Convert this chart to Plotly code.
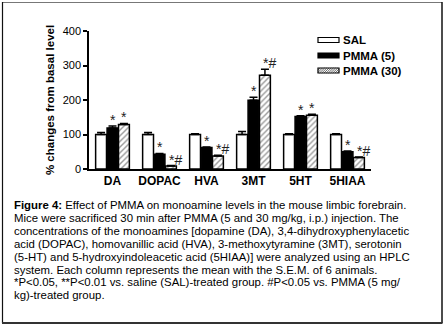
import plotly.graph_objects as go

categories = ["DA", "DOPAC", "HVA", "3MT", "5HT", "5HIAA"]
series_names = ["SAL", "PMMA (5)", "PMMA (30)"]
sal_vals = [100, 100, 100, 100, 100, 100]
sal_err = [6, 6, 2, 9, 2, 2]
pmma5_vals = [119, 43, 62, 199, 152, 50]
pmma5_err = [6, 2, 2, 9, 2, 2]
pmma30_vals = [129, 9, 38, 272, 156, 33]
pmma30_err = [3, 1, 2, 17, 3, 2]
sig_pmma5 = ["*", "*", "*", "*", "*", "*"]
sig_pmma30 = ["*", "*#", "*#", "*#", "*", "*#"]
y_ticks = [0, 100, 200, 300, 400]
y_title = "% changes from basal level"
caption_lines = [
    "<b>Figure 4:</b> Effect of PMMA on monoamine levels in the mouse limbic forebrain.",
    "Mice were sacrificed 30 min after PMMA (5 and 30 mg/kg, i.p.) injection. The",
    "concentrations of the monoamines [dopamine (DA), 3,4-dihydroxyphenylacetic",
    "acid (DOPAC), homovanillic acid (HVA), 3-methoxytyramine (3MT), serotonin",
    "(5-HT) and 5-hydroxyindoleacetic acid (5HIAA)] were analyzed using an HPLC",
    "system. Each column represents the mean with the S.E.M. of 6 animals.",
    "*P<0.05, **P<0.01 vs. saline (SAL)-treated group. #P<0.05 vs. PMMA (5 mg/",
    "kg)-treated group.",
]

W, H = 448, 330
L, R, T, B = 89, 77, 31, 161
PW = W - L - R
PH = H - T - B
FONT = "Liberation Sans, Arial, sans-serif"


def px(xp):
    return (xp - L) / PW


def py(yp):
    return (H - B - yp) / PH


fig = go.Figure()
fig.add_trace(go.Bar(
    x=categories, y=sal_vals, name=series_names[0],
    marker=dict(color="white", line=dict(color="black", width=1.5)),
    error_y=dict(type="data", array=sal_err, arrayminus=[0] * 6,
                 color="black", thickness=1.5, width=4),
))
fig.add_trace(go.Bar(
    x=categories, y=pmma5_vals, name=series_names[1],
    marker=dict(color="black", line=dict(color="black", width=1.5)),
    error_y=dict(type="data", array=pmma5_err, arrayminus=[0] * 6,
                 color="black", thickness=1.5, width=4),
))
fig.add_trace(go.Bar(
    x=categories, y=pmma30_vals, name=series_names[2],
    marker=dict(color="white", line=dict(color="black", width=1.5),
                pattern=dict(shape="/", fgcolor="#333333", bgcolor="white",
                             size=4, solidity=0.35, fillmode="overlay")),
    error_y=dict(type="data", array=pmma30_err, arrayminus=[0] * 6,
                 color="black", thickness=1.5, width=4),
))

bar_px = 11.6
annotations = []
for i, c in enumerate(categories):
    for k, (vals, errs, sigs) in enumerate([(pmma5_vals, pmma5_err, sig_pmma5),
                                            (pmma30_vals, pmma30_err, sig_pmma30)]):
        off = (k) * bar_px
        s = sigs[i]
        annotations.append(dict(
            x=c, y=vals[i] + errs[i], xref="x", yref="y",
            text=s, showarrow=False, yanchor="bottom",
            xanchor="left" if len(s) > 1 else "center",
            xshift=off - 4 if len(s) > 1 else off, yshift=-4,
            font=dict(family=FONT, size=14, color="#222222"),
        ))

# caption
for j, line in enumerate(caption_lines):
    yc = 205 + j * 12.9
    annotations.append(dict(
        x=px(12), y=py(yc), xref="paper", yref="paper",
        text=line, showarrow=False, xanchor="left", yanchor="middle",
        font=dict(family=FONT, size=11.4, color="black"),
    ))

# legend
shapes = []
legend_rows = [40, 55.5, 70.5]
for n, yc in zip(series_names, legend_rows):
    annotations.append(dict(
        x=px(341), y=py(yc), xref="paper", yref="paper", text="<b>%s</b>" % n,
        showarrow=False, xanchor="left", yanchor="middle",
        font=dict(family=FONT, size=11.5, color="black"),
    ))
sx0, sx1 = 318, 339
shapes.append(dict(type="rect", xref="paper", yref="paper",
                   x0=px(sx0), x1=px(sx1), y0=py(legend_rows[0] - 2.5), y1=py(legend_rows[0] + 2.5),
                   fillcolor="white", line=dict(color="black", width=1.2)))
shapes.append(dict(type="rect", xref="paper", yref="paper",
                   x0=px(sx0), x1=px(sx1), y0=py(legend_rows[1] - 2.5), y1=py(legend_rows[1] + 2.5),
                   fillcolor="black", line=dict(color="black", width=1.2)))
yc = legend_rows[2]
path = ""
xs = sx0 - 5
while xs < sx1:
    a0, a1 = xs, xs + 5
    b0, b1 = yc + 2.5, yc - 2.5
    if a0 < sx0:
        b0 = b0 - (sx0 - a0)
        a0 = sx0
    if a1 > sx1:
        b1 = b1 + (a1 - sx1)
        a1 = sx1
    path += "M%.4f,%.4f L%.4f,%.4f " % (px(a0), py(b0), px(a1), py(b1))
    xs += 2.2
shapes.append(dict(type="path", xref="paper", yref="paper", path=path,
                   line=dict(color="#444444", width=0.8)))
shapes.append(dict(type="rect", xref="paper", yref="paper",
                   x0=px(sx0), x1=px(sx1), y0=py(yc - 2.5), y1=py(yc + 2.5),
                   fillcolor="rgba(0,0,0,0)", line=dict(color="black", width=1.2)))

# frame
shapes += [
    dict(type="line", xref="paper", yref="paper", x0=px(2), x1=px(442), y0=py(2.5), y1=py(2.5),
         line=dict(color="#777777", width=1.2)),
    dict(type="line", xref="paper", yref="paper", x0=px(2.5), x1=px(2.5), y0=py(2), y1=py(323),
         line=dict(color="#111111", width=1.2)),
    dict(type="line", xref="paper", yref="paper", x0=px(442), x1=px(442), y0=py(2), y1=py(323),
         line=dict(color="#111111", width=1.5)),
    dict(type="line", xref="paper", yref="paper", x0=px(2), x1=px(442.5), y0=py(323), y1=py(323),
         line=dict(color="#333333", width=2)),
]

fig.update_layout(
    width=W, height=H,
    margin=dict(l=L, r=R, t=T, b=B, autoexpand=False),
    paper_bgcolor="white", plot_bgcolor="white",
    barmode="group", bargap=0.27, bargroupgap=0.05,
    showlegend=False,
    annotations=annotations, shapes=shapes,
    font=dict(family=FONT, color="black"),
)
fig.update_xaxes(
    automargin=False,
    showline=True, linecolor="black", linewidth=1.5, ticks="", showgrid=False,
    tickfont=dict(family=FONT, size=12, color="black"),
    tickprefix="<b>", ticksuffix="</b>", range=[-0.5, 5.5],
)
fig.update_yaxes(
    automargin=False,
    range=[0, 400], tickvals=y_ticks, showline=True, linecolor="black", linewidth=1.5,
    ticks="outside", ticklen=4, tickwidth=1.5, tickcolor="black", showgrid=False, zeroline=False,
    tickfont=dict(family=FONT, size=11, color="black"),
    tickprefix="<b>", ticksuffix="</b>",
    title=dict(text="<b>%s</b>" % y_title, font=dict(family=FONT, size=11.5, color="black"),
               standoff=6),
)

fig.write_html("out.html", config={"displayModeBar": False},
               post_script="document.body.style.margin='0px';")
